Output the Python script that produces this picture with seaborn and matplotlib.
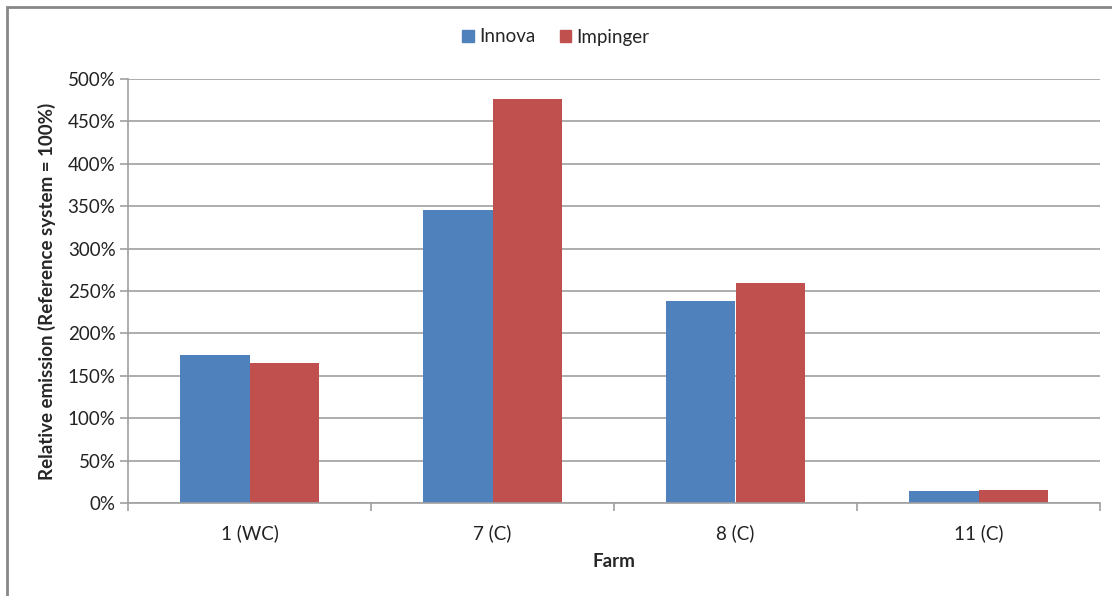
import matplotlib
matplotlib.use("Agg")
import matplotlib.pyplot as plt
import matplotlib.patches as mpatches
from matplotlib.ticker import FixedLocator, PercentFormatter
import pandas as pd
import seaborn as sns

farms = ["1 (WC)", "7 (C)", "8 (C)", "11 (C)"]
innova = [175, 346, 238, 14.5]
impinger = [165, 476, 260, 15.5]
series = ["Innova", "Impinger"]
colors = ["#4F81BD", "#C0504D"]

df = pd.DataFrame({
    "Farm": farms * 2,
    "value": innova + impinger,
    "System": [series[0]] * len(farms) + [series[1]] * len(farms),
})

sns.set_theme(style="white")
plt.rcParams["font.family"] = ["Lato", "DejaVu Sans"]

W, H = 1112, 596
fig = plt.figure(figsize=(W / 100, H / 100), dpi=100)
ax = fig.add_axes([128 / W, 93 / H, (1100 - 128) / W, (503 - 79) / H])

sns.barplot(data=df, x="Farm", y="value", hue="System", order=farms,
            hue_order=series, palette=colors, width=0.57, gap=0,
            saturation=1, linewidth=0, ax=ax, legend=False)

grid_c = "#A0A0A0"
ax.set_ylim(0, 500)
ax.set_xlim(-0.5, len(farms) - 0.5)
ax.yaxis.set_major_locator(FixedLocator(range(0, 501, 50)))
ax.yaxis.set_major_formatter(PercentFormatter(decimals=0))
ax.grid(axis="y", color=grid_c, linewidth=1.2)
ax.set_axisbelow(True)

for s in ["top", "right"]:
    ax.spines[s].set_visible(False)
for s in ["left", "bottom"]:
    ax.spines[s].set_color(grid_c)
    ax.spines[s].set_linewidth(1.2)

fs = 13.5
ax.tick_params(axis="y", length=6, color=grid_c, width=1.2, labelsize=fs,
               labelcolor="#222222", pad=3, left=True)
ax.tick_params(axis="x", which="major", length=0, labelsize=fs,
               labelcolor="#222222", pad=15)
ax.xaxis.set_minor_locator(FixedLocator([i - 0.5 for i in range(len(farms) + 1)]))
ax.tick_params(axis="x", which="minor", length=6, color=grid_c, width=1.2,
               bottom=True)

ax.set_xlabel("Farm", fontsize=fs, fontweight="bold", labelpad=8)
ax.set_ylabel("Relative emission (Reference system = 100%)", fontsize=fs,
              fontweight="bold", labelpad=8)

handles = [mpatches.Patch(color=c, label=l) for c, l in zip(colors, series)]
fig.legend(handles=handles, loc="center", bbox_to_anchor=(0.5, 1 - 37 / H),
           ncol=2, frameon=False, fontsize=fs, handlelength=0.6,
           handleheight=0.6, handletextpad=0.3, columnspacing=1.3)

# chart frame
fig.patches.append(mpatches.Rectangle((7 / W, -0.05), 1.2, 1 - 7 / H + 0.05,
                                      transform=fig.transFigure, fill=False,
                                      edgecolor="#888888", linewidth=2))

fig.savefig("out.png", dpi=100)
